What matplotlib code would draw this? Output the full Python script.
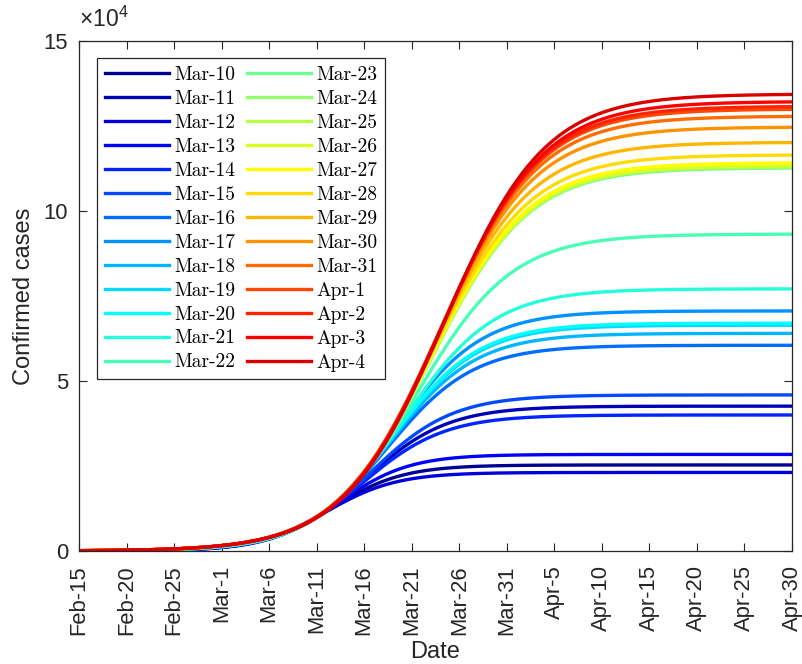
import numpy as np
import matplotlib
matplotlib.use('Agg')
import matplotlib.pyplot as plt
import pandas as pd

# fit dates (one curve per date the model was fitted on)
fit_labels = ['Mar-10', 'Mar-11', 'Mar-12', 'Mar-13', 'Mar-14', 'Mar-15', 'Mar-16',
              'Mar-17', 'Mar-18', 'Mar-19', 'Mar-20', 'Mar-21', 'Mar-22', 'Mar-23',
              'Mar-24', 'Mar-25', 'Mar-26', 'Mar-27', 'Mar-28', 'Mar-29', 'Mar-30',
              'Mar-31', 'Apr-1', 'Apr-2', 'Apr-3', 'Apr-4']

# final size (plateau) of each fitted curve, read at Apr-30
final_size = [25300, 42600, 23100, 28400, 40000, 45900, 60500,
              70600, 64000, 66400, 67000, 77100, 93200, 112700,
              112900, 113100, 113400, 114200, 116500, 120200, 124700,
              127900, 130000, 130800, 132200, 134400]

# growth rate (1/day) and midpoint (days after Feb-15) of each curve
growth_rate = [0.27, 0.23, 0.27, 0.27, 0.23, 0.23, 0.22,
               0.22, 0.22, 0.22, 0.22, 0.21, 0.20, 0.195,
               0.195, 0.195, 0.195, 0.195, 0.195, 0.195, 0.193,
               0.192, 0.191, 0.191, 0.19, 0.19]
midpoint = [26.6, 30.1, 26.0, 27.3, 29.8, 30.6, 32.4,
            33.2, 32.7, 32.9, 32.9, 34.1, 35.6, 37.0,
            37.0, 37.0, 37.0, 37.0, 37.1, 37.3, 37.6,
            37.85, 38.0, 38.05, 38.2, 38.4]

start = pd.Timestamp('2020-02-15')
end = pd.Timestamp('2020-04-30')
tick_dates = pd.date_range(start, end, freq='5D')
tick_labels = [f"{d:%b}-{d.day}" for d in tick_dates]


def matlab_jet(m):
    # same construction as MATLAB's jet(m)
    n = int(np.ceil(m / 4))
    u = np.concatenate([np.arange(1, n + 1) / n, np.ones(n - 1), np.arange(n, 0, -1) / n])
    g = int(np.ceil(n / 2)) - (1 if m % 4 == 1 else 0) + np.arange(1, len(u) + 1)
    r = g + n
    b = g - n
    cmap = np.zeros((m, 3))
    for idx, col in ((r, 0), (g, 1), (b, 2)):
        ok = (idx >= 1) & (idx <= m)
        cmap[idx[ok] - 1, col] = u[ok]
    return cmap


colors = matlab_jet(len(fit_labels))

days = np.linspace(0, (end - start).days, 600)

plt.rcParams['font.family'] = ['Liberation Sans', 'DejaVu Sans']
plt.rcParams['mathtext.fontset'] = 'custom'
plt.rcParams['mathtext.rm'] = 'Liberation Sans'
plt.rcParams['mathtext.it'] = 'Liberation Sans:italic'

fig = plt.figure(figsize=(8.03, 6.64), dpi=100)
ax = fig.add_axes([0.0984, 0.1702, 0.8879, 0.7681])

for i in range(len(fit_labels)):
    y = final_size[i] / (1 + np.exp(-growth_rate[i] * (days - midpoint[i])))
    ax.plot(days, y, color=colors[i], lw=2.4, label=fit_labels[i])

grey = (0.15, 0.15, 0.15)
ax.set_xlim(0, (end - start).days)
ax.set_ylim(0, 150000)
ax.set_xticks([(d - start).days for d in tick_dates])
ax.set_xticklabels(tick_labels, rotation=90)
ax.set_yticks([0, 50000, 100000, 150000])
ax.set_yticklabels(['0', '5', '10', '15'])
ax.tick_params(direction='in', length=6, width=0.8, top=True, right=True,
               labelsize=15.8, colors=grey)
ax.tick_params(axis='x', pad=10)
ax.tick_params(axis='y', pad=8)
for s in ax.spines.values():
    s.set_color(grey)
    s.set_linewidth(0.9)

ax.text(0.0, 1.018, r'$\times 10^{4}$', transform=ax.transAxes, fontsize=16.5,
        color=grey, ha='left', va='bottom')
ax.set_xlabel('Date', fontsize=17, color=grey)
ax.xaxis.set_label_coords(0.5, -0.176)
ax.set_ylabel('Confirmed cases', fontsize=17, color=grey, labelpad=6)

leg = ax.legend(ncol=2, loc='upper left', bbox_to_anchor=(0.0252, 0.966),
                borderaxespad=0, fancybox=False, framealpha=1,
                edgecolor=grey, prop={'family': 'cmr10', 'size': 14},
                handlelength=3.3, handletextpad=0.3, labelspacing=0.31,
                columnspacing=0.55, borderpad=0.4)
leg.get_frame().set_linewidth(0.9)

fig.savefig('out.png', dpi=100)
